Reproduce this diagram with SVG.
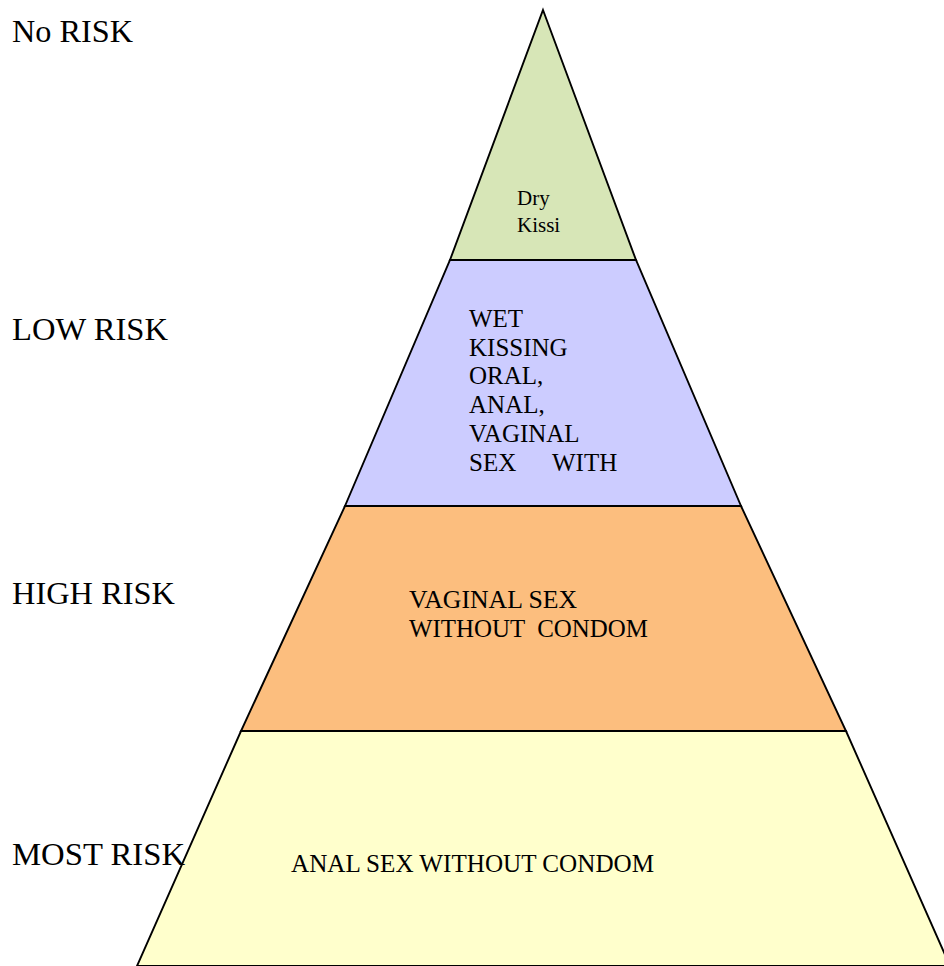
<svg xmlns="http://www.w3.org/2000/svg" width="944" height="966" viewBox="0 0 944 966">
<style>
.layer{stroke:#000;stroke-width:1.9;stroke-linejoin:miter}
text{font-family:'Liberation Serif','Times New Roman',Tinos,'DejaVu Serif',serif;fill:#000}
.big{font-size:32px}
.mid{font-size:25px}
.small{font-size:21px}
</style>
<rect width="944" height="966" fill="#fff"/>
<g id="most-risk-layer">
<polygon class="layer" points="241,731 846,731 950,966 137,966" fill="#ffffcc"/>
<text class="mid" x="291" y="872" textLength="363" lengthAdjust="spacingAndGlyphs">ANAL SEX WITHOUT CONDOM</text>
</g>
<g id="high-risk-layer">
<polygon class="layer" points="345,506 741,506 846,731 241,731" fill="#fcbe7e"/>
<text class="mid" x="409" y="608" textLength="168" lengthAdjust="spacingAndGlyphs">VAGINAL SEX</text>
<text class="mid" x="409" y="637" xml:space="preserve" textLength="239" lengthAdjust="spacingAndGlyphs">WITHOUT  CONDOM</text>
</g>
<g id="low-risk-layer">
<polygon class="layer" points="450,260 636,260 741,506 345,506" fill="#ccccff"/>
<text class="mid" x="469" y="327">WET</text>
<text class="mid" x="469" y="356">KISSING</text>
<text class="mid" x="469" y="384">ORAL,</text>
<text class="mid" x="469" y="413">ANAL,</text>
<text class="mid" x="469" y="442">VAGINAL</text>
<text class="mid" y="471"><tspan x="469">SEX</tspan><tspan x="552">WITH</tspan></text>
</g>
<g id="no-risk-layer">
<polygon class="layer" points="543,10 636,260 450,260" fill="#d7e6b7"/>
<text class="small" x="517" y="205">Dry</text>
<text class="small" x="517" y="232">Kissi</text>
</g>
<g id="labels">
<text class="big" x="12" y="42" textLength="121" lengthAdjust="spacingAndGlyphs">No RISK</text>
<text class="big" x="12" y="340" textLength="156" lengthAdjust="spacingAndGlyphs">LOW RISK</text>
<text class="big" x="12" y="604" textLength="163" lengthAdjust="spacingAndGlyphs">HIGH RISK</text>
<text class="big" x="12" y="865" textLength="173" lengthAdjust="spacingAndGlyphs">MOST RISK</text>
</g>
</svg>
